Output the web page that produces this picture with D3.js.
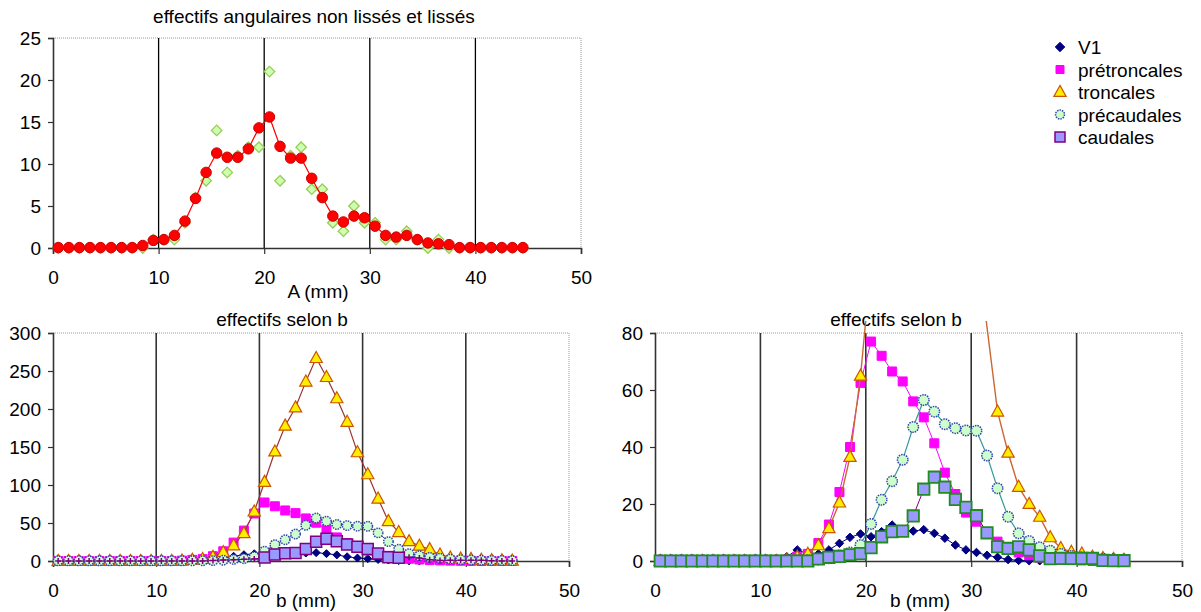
<!DOCTYPE html>
<html><head><meta charset="utf-8">
<script src="https://cdn.jsdelivr.net/npm/d3@7"></script>
<style>
html,body{margin:0;padding:0;background:#fff;}
text{font-family:"Liberation Sans",Arial,sans-serif;fill:#000;}
</style></head>
<body>
<svg id="c" width="1201" height="612"></svg>
<script>
// ---------- data ----------
const bValues = [0.5,1.5,2.5,3.5,4.5,5.5,6.5,7.5,8.5,9.5,10.5,11.5,12.5,13.5,14.5,15.5,16.5,17.5,18.5,19.5,
  20.5,21.5,22.5,23.5,24.5,25.5,26.5,27.5,28.5,29.5,30.5,31.5,32.5,33.5,34.5,35.5,36.5,37.5,38.5,39.5,
  40.5,41.5,42.5,43.5,44.5];
const xTicks = [0,10,20,30,40,50];
const topYTicks = [0,5,10,15,20,25];
const leftYTicks = [0,50,100,150,200,250,300];
const rightYTicks = [0,20,40,60,80];

const angRaw = [0,0,0,0,0,0,0,0,0,1,1,1,3,6,8,14,9,11,12,12,21,8,11,12,7,7,3,2,5,3,3,1,1,2,1,0,1,0,0,0,0,0,0,0,0];
const angSmooth = [0.05,0.05,0.05,0.05,0.05,0.05,0.05,0.05,0.3,0.9,1.0,1.5,3.2,5.9,9.0,11.3,10.8,10.8,11.8,14.3,
  15.6,12.1,10.7,10.7,8.3,6.0,3.8,3.1,3.8,3.6,2.6,1.5,1.3,1.5,1.0,0.6,0.5,0.4,0.05,0.05,0.05,0.05,0.05,0.05,0.05];

const v1 = [0,0,0,0,0,0,0,0,0.3,0.3,0.3,0.3,1.5,3.9,2.5,2.5,3.9,6.2,8.3,9.5,8.5,10.3,12.6,10.7,10.5,11.0,9.7,8.0,5.6,3.9,
  3.0,2.0,1.3,0.5,0.2,0.1,0.1,0.1,0.1,0.1,0.1,0.1,0.1,0.1,0.1];
const pretroncales = [0,0,0,0,0,0,0,0,0,0,0,0,0.5,1.5,2.5,6.3,12.8,24.2,40,62.5,77,72,66.5,63,56,50.4,41.3,31,23.5,17,
  13.8,10,6.8,4.5,3,2,1.2,0.8,0.5,0.3,0.2,0,0,0,0];
const troncales = [0,0,0,0,0,0,0,0,0,0,0,0,0.5,1.5,2.5,5.5,11.5,20.5,36.5,65,104,144,178,202,236,267,242,214,183,143,
  114,82,52.4,38,26,20,15.5,8.3,4.5,3.2,2.6,1.5,1,0.7,0.4];
const precaudales = [0.3,0.3,0.3,0.3,0.3,0.3,0.3,0.3,0.3,0.3,0.3,0.3,0.3,0.3,0.3,0.5,1,2,3,5.6,13,21.5,28,35.5,47,56.5,
  52.4,48,46.6,45.8,45.7,37,25.5,15.5,9.7,7,4.8,3.6,2.5,1.8,1.3,1,0.8,0.6,0.5];
const caudales = [0,0,0,0,0,0,0,0,0,0,0,0,0,0,0,0.7,1.3,1.6,2.2,2.6,4.7,8.5,10.3,10.5,15.8,25.2,29.4,25.9,21.6,18.8,
  15.9,9.9,5,4.4,5,3.9,1.8,0.8,0.9,0.9,0.9,0.9,0.2,0.1,0.1];
const caudalesLeftRange = [20.5, 33.5];   // range drawn with full markers in the left chart

const seriesNames = ["V1","prétroncales","troncales","précaudales","caudales"];

// ---------- helpers ----------
const svg = d3.select("#c");
const FONT = 19;

const diamondType = {draw(ctx,size){const r=Math.sqrt(size)/2;ctx.moveTo(0,-r);ctx.lineTo(r,0);ctx.lineTo(0,r);ctx.lineTo(-r,0);ctx.closePath();}};
const squareType = {draw(ctx,size){const r=Math.sqrt(size)/2;ctx.rect(-r,-r,2*r,2*r);}};
const triType = {draw(ctx,size){const w=Math.sqrt(size);const h=w*0.9;ctx.moveTo(0,-h*0.6);ctx.lineTo(w/2,h*0.4);ctx.lineTo(-w/2,h*0.4);ctx.closePath();}};
const circType = {draw(ctx,size){const r=Math.sqrt(size)/2;ctx.moveTo(r,0);ctx.arc(0,0,r,0,2*Math.PI);}};
const plusType = {draw(ctx,size){const r=Math.sqrt(size)/2;ctx.moveTo(-r,0);ctx.lineTo(r,0);ctx.moveTo(0,-r);ctx.lineTo(0,r);}};

function frame(cfg){
  const g = svg.append("g");
  const x = d3.scaleLinear([0,50],[cfg.x0,cfg.x1]);
  const y = d3.scaleLinear([0,cfg.ymax],[cfg.y0,cfg.y1]);
  g.append("line").attr("x1",cfg.x0).attr("x2",cfg.x1).attr("y1",cfg.y1).attr("y2",cfg.y1)
    .attr("stroke","#999").attr("stroke-dasharray","1,1");
  g.append("line").attr("x1",cfg.x1).attr("x2",cfg.x1).attr("y1",cfg.y1).attr("y2",cfg.y0)
    .attr("stroke","#999").attr("stroke-dasharray","1,1");
  g.selectAll(".grid").data(xTicks.filter(t=>t>0&&t<50)).join("line")
    .attr("x1",d=>x(d)).attr("x2",d=>x(d)).attr("y1",cfg.y1).attr("y2",cfg.y0)
    .attr("stroke",cfg.gridColor).attr("stroke-width",cfg.gridWidth);
  const ax = g.append("g").attr("transform",`translate(0,${cfg.y0})`)
    .call(d3.axisBottom(x).tickValues(xTicks).tickSize(6).tickPadding(cfg.xPad).tickFormat(d3.format("d")));
  const ay = g.append("g").attr("transform",`translate(${cfg.x0},0)`)
    .call(d3.axisLeft(y).tickValues(cfg.yTicks).tickSize(5).tickPadding(7).tickFormat(d3.format("d")));
  [ax,ay].forEach(a=>{
    a.select(".domain").attr("stroke","#333").attr("stroke-width",1.6);
    a.selectAll(".tick line").attr("stroke","#333").attr("stroke-width",1.2);
    a.selectAll(".tick text").attr("font-size",FONT).attr("font-family","Liberation Sans, Arial, sans-serif").attr("fill","#000");
  });
  g.append("text").attr("x",cfg.titleX).attr("y",cfg.titleY).attr("text-anchor","middle")
    .attr("font-size",FONT).text(cfg.title);
  g.append("text").attr("x",cfg.labX).attr("y",cfg.labY).attr("text-anchor","middle")
    .attr("font-size",FONT).text(cfg.xlab);
  const clipId = "clip"+Math.round(cfg.x0)+"_"+Math.round(cfg.y1);
  svg.append("clipPath").attr("id",clipId).append("rect")
    .attr("x",cfg.x0).attr("y",cfg.y1-12).attr("width",cfg.x1-cfg.x0).attr("height",cfg.y0-cfg.y1+20);
  return {g,x,y,clipId};
}

function drawLine(fr, vals, color, width){
  const line = d3.line().x((d,i)=>fr.x(bValues[i])).y(d=>fr.y(d));
  fr.g.append("path").datum(vals).attr("d",line).attr("fill","none")
    .attr("stroke",color).attr("stroke-width",width).attr("clip-path",`url(#${fr.clipId})`);
}
function drawMarks(fr, vals, type, size, fill, stroke, sw, dash, filterFn){
  const pts = vals.map((v,i)=>({b:bValues[i],v})).filter(d=>d.v<=fr.y.domain()[1]).filter(filterFn||(()=>true));
  fr.g.append("g").selectAll("path").data(pts).join("path")
    .attr("transform",d=>`translate(${fr.x(d.b)},${fr.y(d.v)})`)
    .attr("d",d3.symbol().type(type).size(size))
    .attr("fill",fill).attr("stroke",stroke).attr("stroke-width",sw)
    .attr("stroke-dasharray",dash||null);
}

// ---------- top chart ----------
const topFr = frame({x0:53,x1:581,y0:248,y1:38,ymax:25,yTicks:topYTicks,gridColor:"#000",gridWidth:1.3,xPad:17,
  title:"effectifs angulaires non lissés et lissés",titleX:314,titleY:23,xlab:"A (mm)",labX:318,labY:298});
drawMarks(topFr, angRaw, diamondType, 110, "#ccffb0", "#99cc55", 1.3);
drawLine(topFr, angSmooth, "#ff0000", 1.2);
drawMarks(topFr, angSmooth, circType, 110, "#ff0000", "#cc0000", 1);

// ---------- bottom-left ----------
const blFr = frame({x0:53,x1:569,y0:561,y1:333,ymax:300,yTicks:leftYTicks,gridColor:"#333",gridWidth:1.6,xPad:17,
  title:"effectifs selon b",titleX:282,titleY:326,xlab:"b (mm)",labX:306,labY:607});
drawLine(blFr, v1, "#000080", 1);
drawMarks(blFr, v1, diamondType, 64, "#000080", "#000080", 1);
drawLine(blFr, pretroncales, "#ff00ff", 1);
drawMarks(blFr, pretroncales, squareType, 81, "#ff00ff", "#ff00ff", 1);
drawLine(blFr, troncales, "#993333", 1.2);
drawMarks(blFr, troncales, triType, 150, "#ffee00", "#cc5500", 1.2);
drawLine(blFr, precaudales, "#3333aa", 1);
drawMarks(blFr, precaudales, circType, 90, "#ccffcc", "#3344aa", 1.5, "1.5,1");
const inLeft = d=>d.b>=caudalesLeftRange[0]&&d.b<=caudalesLeftRange[1];
drawLine(blFr, caudales, "#800080", 1);
drawMarks(blFr, caudales, squareType, 121, "#9999ff", "#800080", 1.5, null, inLeft);
drawMarks(blFr, caudales, plusType, 36, "none", "#800080", 1.5, null, d=>!inLeft(d));

// ---------- bottom-right ----------
const brFr = frame({x0:655,x1:1182,y0:561,y1:333,ymax:80,yTicks:rightYTicks,gridColor:"#333",gridWidth:1.6,xPad:17,
  title:"effectifs selon b",titleX:896,titleY:326,xlab:"b (mm)",labX:920,labY:607});
drawLine(brFr, v1, "#000080", 1);
drawMarks(brFr, v1, diamondType, 72, "#000080", "#000080", 1);
drawLine(brFr, pretroncales, "#ff00ff", 1);
drawMarks(brFr, pretroncales, squareType, 81, "#ff00ff", "#ff00ff", 1);
drawLine(brFr, troncales, "#cc6633", 1.4);
drawMarks(brFr, troncales, triType, 150, "#ffee00", "#cc5500", 1.2);
drawLine(brFr, precaudales, "#339999", 1.2);
drawMarks(brFr, precaudales, circType, 110, "#ccffcc", "#3344aa", 1.5, "1.5,1");
drawLine(brFr, caudales, "#800080", 1);
drawMarks(brFr, caudales, squareType, 130, "#9999ff", "#228b22", 1.8);

// ---------- legend ----------
const legStyles = [
  {type:diamondType,size:90,fill:"#000080",stroke:"#000080",sw:1},
  {type:squareType,size:64,fill:"#ff00ff",stroke:"#ff00ff",sw:1},
  {type:triType,size:150,fill:"#ffee00",stroke:"#cc5500",sw:1.2},
  {type:circType,size:80,fill:"#ccffcc",stroke:"#3344aa",sw:1.5,dash:"1.5,1"},
  {type:squareType,size:100,fill:"#9999ff",stroke:"#800080",sw:1.5}
];
const leg = svg.append("g").selectAll("g").data(seriesNames).join("g")
  .attr("transform",(d,i)=>`translate(1060,${47+i*22.5})`);
leg.append("path").attr("d",(d,i)=>d3.symbol().type(legStyles[i].type).size(legStyles[i].size)())
  .attr("fill",(d,i)=>legStyles[i].fill).attr("stroke",(d,i)=>legStyles[i].stroke)
  .attr("stroke-width",(d,i)=>legStyles[i].sw).attr("stroke-dasharray",(d,i)=>legStyles[i].dash||null);
leg.append("text").attr("x",18).attr("y",7).attr("font-size",FONT).text(d=>d);
</script>
</body></html>
